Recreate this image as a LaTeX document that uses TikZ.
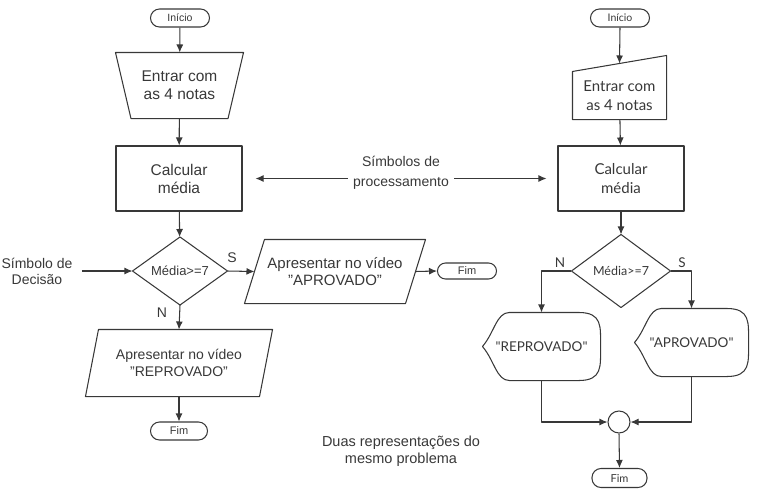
\documentclass[tikz,border=0pt]{standalone}
\usepackage{fontspec}
\setmainfont{Liberation Sans}
\newfontfamily\rfont{Lato}
\usetikzlibrary{arrows.meta,calc}
\definecolor{ink}{HTML}{383838}
\newcommand\drawdisp[1]{%
  \draw (#1.west) .. controls ($(#1.west)+(12,-14)$) and ($(#1.north west)+(14,0)$) .. ($(#1.north west)+(27,0)$)
    -- ($(#1.north east)+(-22,0)$) .. controls ($(#1.north east)+(2,0)$) and ($(#1.east)+(0,-20)$) .. (#1.east)
    .. controls ($(#1.east)+(0,20)$) and ($(#1.south east)+(2,0)$) .. ($(#1.south east)+(-22,0)$)
    -- ($(#1.south west)+(27,0)$) .. controls ($(#1.south west)+(14,0)$) and ($(#1.west)+(12,14)$) .. (#1.west) -- cycle;}
\begin{document}
\begin{tikzpicture}[x=1pt,y=-1pt,color=ink,line width=1.05pt,line join=round,
  every node/.style={inner sep=0pt,align=center},
  term/.style={draw,rounded corners=9pt,minimum width=59pt,minimum height=18pt},
  arr/.style={-{Latex[length=8pt,width=7pt]}},
  big/.style={font=\fontsize{15.5}{18}\selectfont},
  mid/.style={font=\fontsize{14}{17}\selectfont},
  small/.style={font=\fontsize{10.5}{12}\selectfont},
  rbig/.style={font=\rfont\fontsize{15}{19}\selectfont},
  rmid/.style={font=\rfont\fontsize{13.5}{16}\selectfont},
  rsmall/.style={font=\rfont\fontsize{10.5}{12}\selectfont}]
\useasboundingbox (0,0) rectangle (757,496);

% ---------- left flowchart ----------
\node[term,small] (i1) at (180,18) {Início};
\node[big,minimum width=127pt,minimum height=65pt] (t1) at (179.5,85.5) {Entrar com\\as 4 notas};
\draw (t1.north west) -- (t1.north east) -- ($(t1.south east)+(-15.5,0)$) -- ($(t1.south west)+(15.5,0)$) -- cycle;
\node[big,draw,minimum width=126pt,minimum height=65pt] (c1) at (179,178.5) {Calcular\\média};
\node[font=\fontsize{13}{15}\selectfont,minimum width=94pt,minimum height=67pt] (d1) at (180,271) {Média>=7};
\draw (d1.north) -- (d1.east) -- (d1.south) -- (d1.west) -- cycle;
\node[font=\fontsize{15}{17}\selectfont,minimum width=180pt,minimum height=63pt] (p1) at (335,271.5) {Apresentar no vídeo\\"APROVADO"};
\draw ($(p1.north west)+(20,0)$) -- (p1.north east) -- ($(p1.south east)+(-20,0)$) -- (p1.south west) -- cycle;
\node[term,font=\fontsize{11}{12}\selectfont,minimum height=16pt,rounded corners=8pt] (f1) at (467,271) {Fim};
\node[mid,minimum width=186pt,minimum height=66pt] (p2) at (179,363) {Apresentar no vídeo\\"REPROVADO"};
\draw ($(p2.north west)+(13,0)$) -- (p2.north east) -- ($(p2.south east)+(-13,0)$) -- (p2.south west) -- cycle;
\node[term,font=\fontsize{11}{12}\selectfont,minimum width=57pt] (f2) at (179,431) {Fim};

\node[font=\fontsize{14}{16}\selectfont] (dec) at (37,271) {Símbolo de\\Decisão};
\node[mid] (sl) at (232,258) {S};
\node[mid] (nl) at (162,313) {N};

\draw[arr] (i1) -- (t1);
\draw[arr] (t1) -- (c1);
\draw[arr] (c1) -- (d1);
\draw[arr] ([xshift=9pt]dec.east) -- (d1.west);
\draw[arr] (d1.east) -- ($(p1.west)+(10,0)$);
\draw[arr] ($(p1.east)+(-10,0)$) -- (f1.west);
\draw[arr] (d1.south) -- (p2.north);
\draw[arr] (p2.south) -- (f2.north);

% ---------- middle labels ----------
\node[font=\fontsize{14}{20}\selectfont,inner sep=5pt] (proc) at (401,173) {Símbolos de\\processamento};
\node[font=\fontsize{14.5}{17}\selectfont] (foot) at (401,451) {Duas representações do\\mesmo problema};

% ---------- right flowchart ----------
\node[term,rsmall] (i2) at (620,18) {Início};
\node[rbig,minimum width=93pt,minimum height=47pt] (m2) at (619.5,95.5) {Entrar com\\as 4 notas};
\draw (m2.north west) -- ($(m2.north east)+(0,-16)$) -- (m2.south east) -- (m2.south west) -- cycle;
\node[rbig,draw,minimum width=126pt,minimum height=65pt] (c2) at (621,178.5) {Calcular\\média};
\node[font=\rfont\fontsize{12.5}{14}\selectfont,minimum width=98pt,minimum height=72pt] (d2) at (621,271) {Média>=7};
\draw (d2.north) -- (d2.east) -- (d2.south) -- (d2.west) -- cycle;
\node[rmid,minimum width=117pt,minimum height=67pt] (r2) at (541.5,346.5) {"REPROVADO"};
\drawdisp{r2}
\node[rmid,minimum width=113pt,minimum height=67pt] (a2) at (691.5,342.5) {"APROVADO"};
\drawdisp{a2}
\node[draw,circle,minimum size=22pt] (j) at (619,422) {};
\node[term,font=\rfont\fontsize{11}{12}\selectfont,minimum width=55pt,minimum height=19pt] (f3) at (619.5,478) {Fim};
\node[rmid] (nr) at (560,263) {N};
\node[rmid] (sr) at (682,263) {S};

\draw[arr] (i2.south) -- ($(m2.north)+(0,-8)$);
\draw[arr] (m2) -- (c2);
\draw[arr] (c2) -- (d2);
\draw[arr] (d2.west) -| (r2.north);
\draw[arr] (d2.east) -| (a2.north);
\draw[arr] (r2.south) |- (j.west);
\draw[arr] (a2.south) |- (j.east);
\draw[arr] (j.south) -- (f3.north);

% ---------- pointers from the middle label ----------
\draw[arr] (proc.west |- c1.east) -- ([xshift=13pt]c1.east);
\draw[arr] (proc.east |- c2.west) -- ([xshift=-11pt]c2.west);
\end{tikzpicture}
\end{document}
